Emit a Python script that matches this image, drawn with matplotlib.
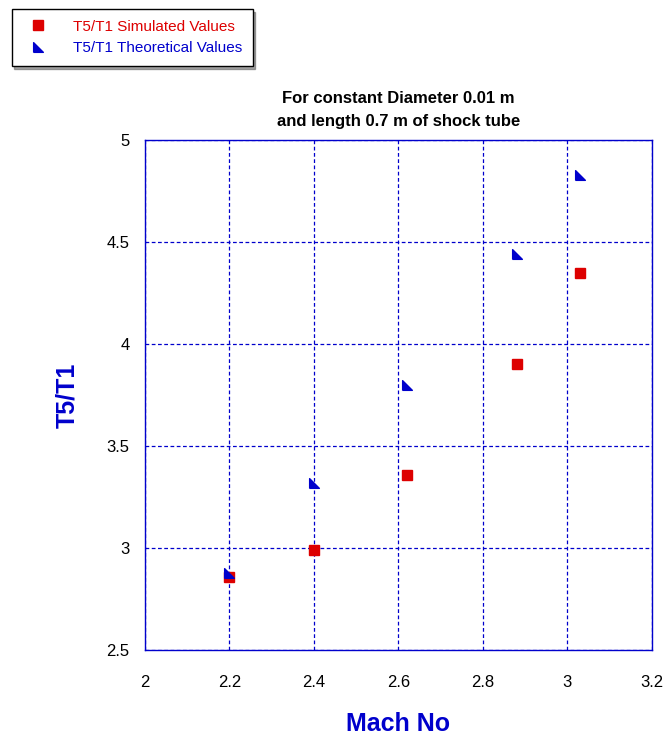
import matplotlib.pyplot as plt

plt.rcParams['font.family'] = ['Liberation Sans', 'DejaVu Sans']

# Mach number vs temperature ratio T5/T1
mach_sim = [2.2, 2.4, 2.62, 2.88, 3.03]
t5t1_sim = [2.86, 2.99, 3.36, 3.90, 4.35]

mach_theory = [2.2, 2.4, 2.62, 2.88, 3.03]
t5t1_theory = [2.88, 3.32, 3.80, 4.44, 4.83]

x_ticks = [2, 2.2, 2.4, 2.6, 2.8, 3, 3.2]
x_tick_labels = ['2', '2.2', '2.4', '2.6', '2.8', '3', '3.2']
y_ticks = [2.5, 3, 3.5, 4, 4.5, 5]
y_tick_labels = ['2.5', '3', '3.5', '4', '4.5', '5']

blue = '#0000cc'
red = '#dd0000'

# right triangle: vertical left edge, flat bottom
tri = [(-1, -1), (1, -1), (-1, 1), (-1, -1)]

fig = plt.figure(figsize=(6.65, 7.35), dpi=100)
ax = fig.add_axes([0.218, 0.1156, 0.762, 0.694])

sim, = ax.plot(mach_sim, t5t1_sim, linestyle='none', marker='s',
               markersize=7, color=red, zorder=3)
theo, = ax.plot(mach_theory, t5t1_theory, linestyle='none', marker=tri,
                markersize=7, color=blue, zorder=4)

ax.set_xlim(2, 3.2)
ax.set_ylim(2.5, 5)
ax.set_xticks(x_ticks)
ax.set_xticklabels(x_tick_labels)
ax.set_yticks(y_ticks)
ax.set_yticklabels(y_tick_labels)
ax.tick_params(length=0, labelsize=12, colors='black')
ax.tick_params(axis='x', pad=18)
ax.tick_params(axis='y', pad=11)

ax.grid(True, color=blue, linestyle=(0, (3, 2)), linewidth=0.9)
for s in ax.spines.values():
    s.set_color(blue)
    s.set_linewidth(1.0)

ax.set_title('For constant Diameter 0.01 m\nand length 0.7 m of shock tube',
             fontsize=12, fontweight='bold', pad=10, linespacing=1.65)
ax.set_xlabel('Mach No', fontsize=18, fontweight='bold', color=blue, labelpad=16)
ax.set_ylabel('T5/T1', fontsize=18, fontweight='bold', color=blue, labelpad=20)

leg = fig.legend([sim, theo], ['T5/T1 Simulated Values', 'T5/T1 Theoretical Values'],
                 loc='upper left', bbox_to_anchor=(0.006, 0.998),
                 fontsize=11, frameon=True, fancybox=False, shadow=True,
                 edgecolor='black', borderpad=0.7, handletextpad=1.3,
                 labelspacing=0.5, handlelength=2.0)
leg.get_frame().set_linewidth(1.0)
for txt, c in zip(leg.get_texts(), [red, blue]):
    txt.set_color(c)

fig.savefig('out.png', dpi=100)
